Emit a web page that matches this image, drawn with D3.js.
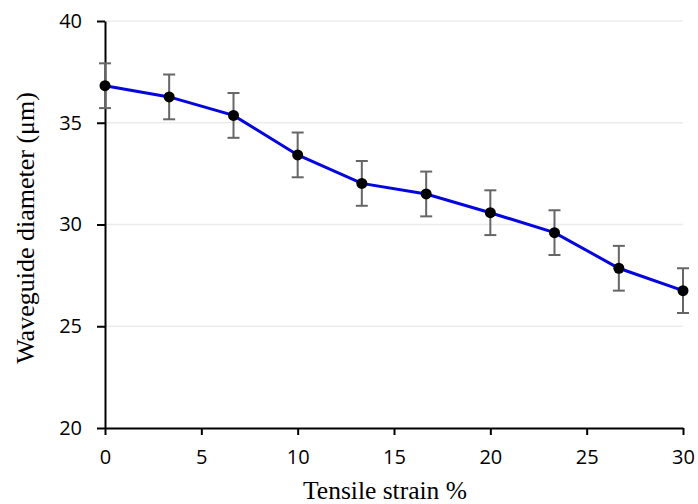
<!DOCTYPE html>
<html><head><meta charset="utf-8">
<script src="https://cdn.jsdelivr.net/npm/d3@7"></script>
<style>body{margin:0;background:#fff}</style>
</head><body>
<script>
const strain = [0, 3.33, 6.67, 10, 13.33, 16.67, 20, 23.33, 26.67, 30];
const diameter = [36.82, 36.27, 35.36, 33.42, 32.02, 31.5, 30.58, 29.6, 27.85, 26.75];
const errors = [1.1, 1.1, 1.1, 1.1, 1.1, 1.1, 1.1, 1.1, 1.1, 1.1];
const xTicks = [0, 5, 10, 15, 20, 25, 30];
const yTicks = [20, 25, 30, 35, 40];

const W = 698, H = 504;
const m = {left: 105, right: 15, top: 21, bottom: 76};
const svg = d3.select("body").append("svg").attr("width", W).attr("height", H);
const x = d3.scaleLinear().domain([0, 30]).range([m.left, W - m.right]);
const y = d3.scaleLinear().domain([20, 40]).range([H - m.bottom, m.top]);
const tickFont = "'Open Sans', Carlito, Calibri, sans-serif";
const serif = "'Liberation Serif', 'Times New Roman', serif";

// gridlines
svg.append("g").selectAll("line").data(yTicks.slice(1)).join("line")
  .attr("x1", x(0)).attr("x2", x(30))
  .attr("y1", d => y(d)).attr("y2", d => y(d))
  .attr("stroke", "#ececec").attr("stroke-width", 1.5);

// axes
const xAxis = svg.append("g").attr("transform", `translate(0,${y(20)})`)
  .call(d3.axisBottom(x).tickValues(xTicks).tickSize(7).tickSizeOuter(0).tickPadding(15));
const yAxis = svg.append("g").attr("transform", `translate(${x(0)},0)`)
  .call(d3.axisLeft(y).tickValues(yTicks).tickSize(8).tickSizeOuter(0).tickPadding(15));
[xAxis, yAxis].forEach(a => {
  a.select(".domain").attr("stroke", "#000").attr("stroke-width", 2);
  a.selectAll(".tick line").attr("stroke", "#000").attr("stroke-width", 2);
  a.selectAll("text").attr("font-family", tickFont).attr("font-size", 20).attr("fill", "#000");
});

// error bars
const eb = svg.append("g").attr("stroke", "#666").attr("stroke-width", 2);
strain.forEach((s, i) => {
  const cx = x(s), t = y(diameter[i] + errors[i]), b = y(diameter[i] - errors[i]);
  eb.append("line").attr("x1", cx).attr("x2", cx).attr("y1", t).attr("y2", b);
  eb.append("line").attr("x1", cx - 6).attr("x2", cx + 6).attr("y1", t).attr("y2", t);
  eb.append("line").attr("x1", cx - 6).attr("x2", cx + 6).attr("y1", b).attr("y2", b);
});

// line
const pts = strain.map((s, i) => [s, diameter[i]]);
svg.append("path").datum(pts)
  .attr("d", d3.line().x(d => x(d[0])).y(d => y(d[1])))
  .attr("fill", "none").attr("stroke", "#0505e0").attr("stroke-width", 3);

svg.append("g").selectAll("circle").data(pts).join("circle")
  .attr("cx", d => x(d[0])).attr("cy", d => y(d[1])).attr("r", 5.5).attr("fill", "#000");

// titles
svg.append("text").attr("x", 385).attr("y", 499)
  .attr("text-anchor", "middle").attr("font-family", serif)
  .attr("font-size", 25.5).text("Tensile strain %");
svg.append("text").attr("transform", `translate(34,228) rotate(-90)`)
  .attr("text-anchor", "middle").attr("font-family", serif)
  .attr("font-size", 26).text("Waveguide diameter (μm)");
</script>
</body></html>
